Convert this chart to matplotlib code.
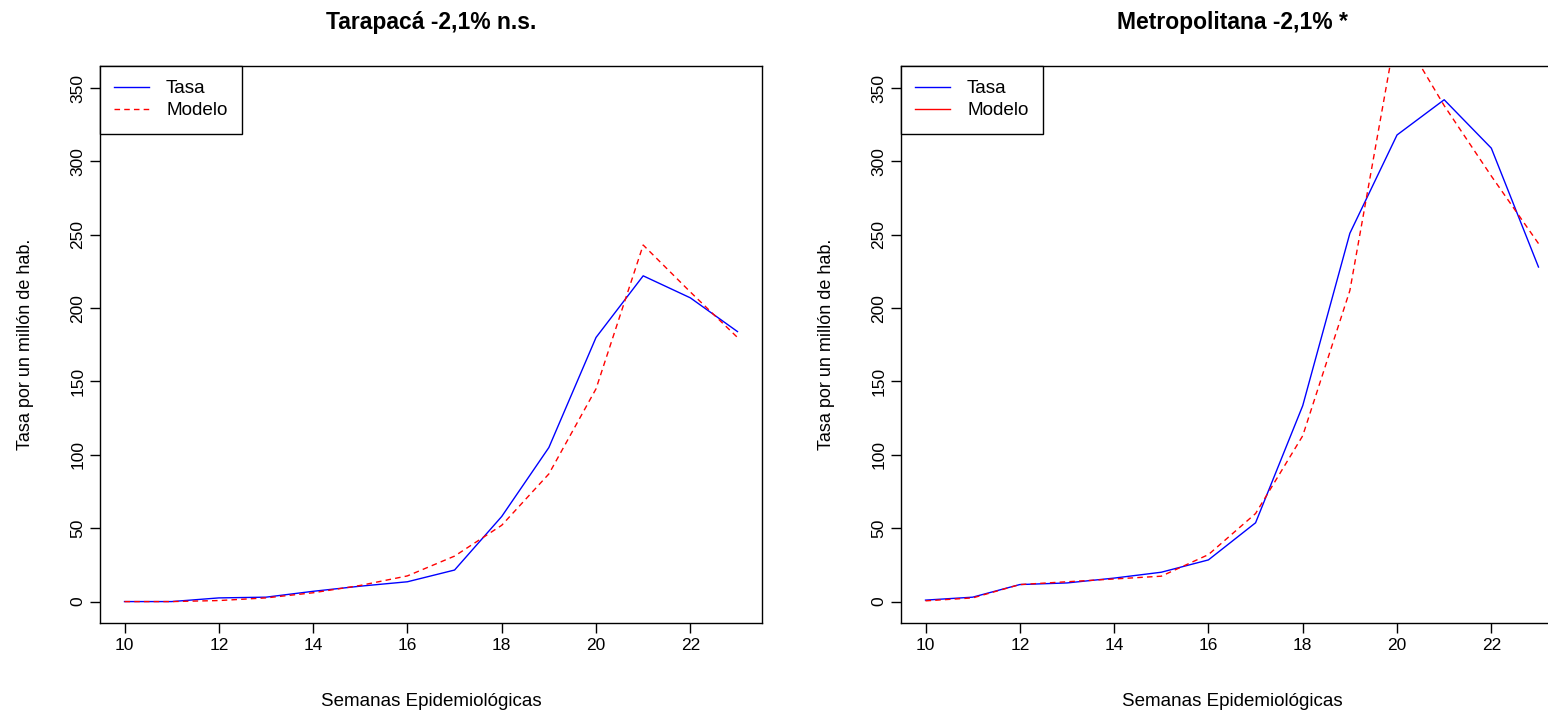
import matplotlib
matplotlib.use("Agg")
import matplotlib.pyplot as plt
from matplotlib.lines import Line2D

plt.rcParams["font.family"] = ["Liberation Sans", "DejaVu Sans"]

semanas = list(range(10, 24))

tara_tasa = [0, 0, 2.5, 3, 7, 10.5, 13.5, 21.5, 58, 105, 180, 222, 207, 184]
tara_modelo = [0, 0, 0.7, 2.5, 6, 11, 17.5, 31, 52, 87, 145, 243, 211, 180]

metro_tasa = [1, 3, 11.6, 12.7, 16, 20, 28.4, 53.7, 133.5, 251, 318, 342, 309, 228]
metro_modelo = [0.5, 2.5, 11.6, 13.5, 15.4, 17.3, 32, 60, 113, 212, 392, 338, 290, 244]

titulos = ["Tarapacá -2,1% n.s.", "Metropolitana -2,1% *"]
# the right legend shows a solid red key although the line is dashed
estilos_leyenda = [(0, (4, 3)), "-"]

fig = plt.figure(figsize=(15.48, 7.13), dpi=100)
ax1 = fig.add_axes([100 / 1548, 90 / 713, 662 / 1548, 557 / 713])
ax2 = fig.add_axes([901 / 1548, 90 / 713, 662 / 1548, 557 / 713])

series = [(tara_tasa, tara_modelo), (metro_tasa, metro_modelo)]
for ax, (tasa, modelo), titulo, ls in zip([ax1, ax2], series, titulos, estilos_leyenda):
    ax.plot(semanas, tasa, color="#0000FF", lw=1.0)
    ax.plot(semanas, modelo, color="#FF0000", lw=1.0, ls=(0, (4, 3)))
    ax.set_xlim(9.48, 23.52)
    ax.set_ylim(-14.6, 365)
    ax.set_xticks(range(10, 23, 2))
    ax.set_yticks(range(0, 351, 50))
    ax.tick_params(axis="both", labelsize=12.5, length=7, width=1, direction="out")
    for lab in ax.get_yticklabels():
        lab.set_rotation(90)
        lab.set_va("center")
    for s in ax.spines.values():
        s.set_linewidth(1)
    ax.set_title(titulo, fontsize=16.5, fontweight="bold", pad=27)
    ax.set_xlabel("Semanas Epidemiológicas", fontsize=13.5, labelpad=29)
    ax.set_ylabel("Tasa por un millón de hab.", fontsize=13, labelpad=26)
    handles = [
        Line2D([], [], color="#0000FF", lw=1.0),
        Line2D([], [], color="#FF0000", lw=1.0, ls=ls),
    ]
    leg = ax.legend(handles, ["Tasa", "Modelo"], loc="upper left", borderaxespad=0,
                    fancybox=False, edgecolor="black", framealpha=1, fontsize=13.6,
                    handlelength=1.85, handletextpad=0.9, borderpad=0.75,
                    labelspacing=0.25)
    leg.get_frame().set_linewidth(1)

fig.savefig("out.png", dpi=100)
